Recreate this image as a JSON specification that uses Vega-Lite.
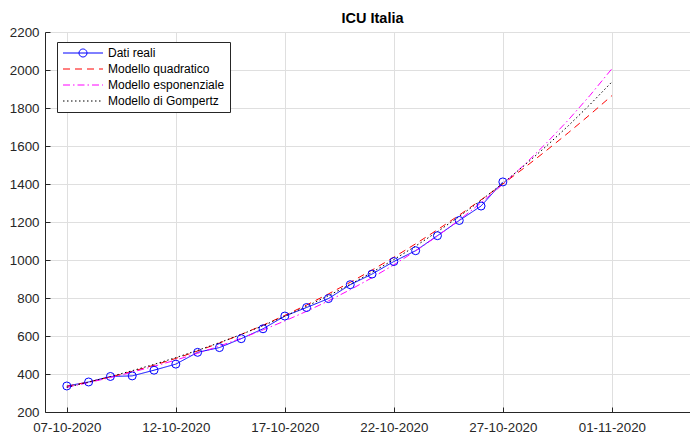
{
  "$schema": "https://vega.github.io/schema/vega-lite/v6.json",
  "width": 645,
  "height": 380,
  "autosize": {"type": "none"},
  "padding": {"left": 45, "top": 32, "right": 0, "bottom": 24},
  "background": "white",
  "title": {"text": "ICU Italia", "font": "Liberation Sans", "fontSize": 14.5, "fontWeight": "bold", "color": "black", "anchor": "middle", "dx": 5, "offset": -1},
  "data": {"values": [
    {"date": "2020-10-07", "serie": "Dati reali", "valore": 337},
    {"date": "2020-10-08", "serie": "Dati reali", "valore": 358},
    {"date": "2020-10-09", "serie": "Dati reali", "valore": 387},
    {"date": "2020-10-10", "serie": "Dati reali", "valore": 390},
    {"date": "2020-10-11", "serie": "Dati reali", "valore": 420},
    {"date": "2020-10-12", "serie": "Dati reali", "valore": 452},
    {"date": "2020-10-13", "serie": "Dati reali", "valore": 514},
    {"date": "2020-10-14", "serie": "Dati reali", "valore": 539},
    {"date": "2020-10-15", "serie": "Dati reali", "valore": 586},
    {"date": "2020-10-16", "serie": "Dati reali", "valore": 638},
    {"date": "2020-10-17", "serie": "Dati reali", "valore": 705},
    {"date": "2020-10-18", "serie": "Dati reali", "valore": 750},
    {"date": "2020-10-19", "serie": "Dati reali", "valore": 797},
    {"date": "2020-10-20", "serie": "Dati reali", "valore": 870},
    {"date": "2020-10-21", "serie": "Dati reali", "valore": 926},
    {"date": "2020-10-22", "serie": "Dati reali", "valore": 992},
    {"date": "2020-10-23", "serie": "Dati reali", "valore": 1049},
    {"date": "2020-10-24", "serie": "Dati reali", "valore": 1128},
    {"date": "2020-10-25", "serie": "Dati reali", "valore": 1208},
    {"date": "2020-10-26", "serie": "Dati reali", "valore": 1284},
    {"date": "2020-10-27", "serie": "Dati reali", "valore": 1411},

    {"date": "2020-10-07", "serie": "Modello quadratico", "valore": 335},
    {"date": "2020-10-08", "serie": "Modello quadratico", "valore": 358},
    {"date": "2020-10-09", "serie": "Modello quadratico", "valore": 384.3},
    {"date": "2020-10-10", "serie": "Modello quadratico", "valore": 413.7},
    {"date": "2020-10-11", "serie": "Modello quadratico", "valore": 446.2},
    {"date": "2020-10-12", "serie": "Modello quadratico", "valore": 482},
    {"date": "2020-10-13", "serie": "Modello quadratico", "valore": 520.9},
    {"date": "2020-10-14", "serie": "Modello quadratico", "valore": 563.1},
    {"date": "2020-10-15", "serie": "Modello quadratico", "valore": 608.4},
    {"date": "2020-10-16", "serie": "Modello quadratico", "valore": 656.8},
    {"date": "2020-10-17", "serie": "Modello quadratico", "valore": 708.5},
    {"date": "2020-10-18", "serie": "Modello quadratico", "valore": 763.3},
    {"date": "2020-10-19", "serie": "Modello quadratico", "valore": 821.4},
    {"date": "2020-10-20", "serie": "Modello quadratico", "valore": 882.6},
    {"date": "2020-10-21", "serie": "Modello quadratico", "valore": 946.9},
    {"date": "2020-10-22", "serie": "Modello quadratico", "valore": 1014.5},
    {"date": "2020-10-23", "serie": "Modello quadratico", "valore": 1085.2},
    {"date": "2020-10-24", "serie": "Modello quadratico", "valore": 1159.2},
    {"date": "2020-10-25", "serie": "Modello quadratico", "valore": 1236.3},
    {"date": "2020-10-26", "serie": "Modello quadratico", "valore": 1316.5},
    {"date": "2020-10-27", "serie": "Modello quadratico", "valore": 1400},
    {"date": "2020-10-28", "serie": "Modello quadratico", "valore": 1486.6},
    {"date": "2020-10-29", "serie": "Modello quadratico", "valore": 1576.5},
    {"date": "2020-10-30", "serie": "Modello quadratico", "valore": 1669.5},
    {"date": "2020-10-31", "serie": "Modello quadratico", "valore": 1765.6},
    {"date": "2020-11-01", "serie": "Modello quadratico", "valore": 1865},

    {"date": "2020-10-07", "serie": "Modello esponenziale", "valore": 330},
    {"date": "2020-10-08", "serie": "Modello esponenziale", "valore": 354.7},
    {"date": "2020-10-09", "serie": "Modello esponenziale", "valore": 381.3},
    {"date": "2020-10-10", "serie": "Modello esponenziale", "valore": 409.8},
    {"date": "2020-10-11", "serie": "Modello esponenziale", "valore": 440.5},
    {"date": "2020-10-12", "serie": "Modello esponenziale", "valore": 473.5},
    {"date": "2020-10-13", "serie": "Modello esponenziale", "valore": 508.9},
    {"date": "2020-10-14", "serie": "Modello esponenziale", "valore": 547},
    {"date": "2020-10-15", "serie": "Modello esponenziale", "valore": 588},
    {"date": "2020-10-16", "serie": "Modello esponenziale", "valore": 632},
    {"date": "2020-10-17", "serie": "Modello esponenziale", "valore": 679.3},
    {"date": "2020-10-18", "serie": "Modello esponenziale", "valore": 730.2},
    {"date": "2020-10-19", "serie": "Modello esponenziale", "valore": 784.9},
    {"date": "2020-10-20", "serie": "Modello esponenziale", "valore": 843.6},
    {"date": "2020-10-21", "serie": "Modello esponenziale", "valore": 906.8},
    {"date": "2020-10-22", "serie": "Modello esponenziale", "valore": 974.7},
    {"date": "2020-10-23", "serie": "Modello esponenziale", "valore": 1047.7},
    {"date": "2020-10-24", "serie": "Modello esponenziale", "valore": 1126.1},
    {"date": "2020-10-25", "serie": "Modello esponenziale", "valore": 1210.4},
    {"date": "2020-10-26", "serie": "Modello esponenziale", "valore": 1301},
    {"date": "2020-10-27", "serie": "Modello esponenziale", "valore": 1398.4},
    {"date": "2020-10-28", "serie": "Modello esponenziale", "valore": 1503.1},
    {"date": "2020-10-29", "serie": "Modello esponenziale", "valore": 1615.7},
    {"date": "2020-10-30", "serie": "Modello esponenziale", "valore": 1736.6},
    {"date": "2020-10-31", "serie": "Modello esponenziale", "valore": 1866.7},
    {"date": "2020-11-01", "serie": "Modello esponenziale", "valore": 2006.4},

    {"date": "2020-10-07", "serie": "Modello di Gompertz", "valore": 330},
    {"date": "2020-10-08", "serie": "Modello di Gompertz", "valore": 357.1},
    {"date": "2020-10-09", "serie": "Modello di Gompertz", "valore": 386.2},
    {"date": "2020-10-10", "serie": "Modello di Gompertz", "valore": 417.3},
    {"date": "2020-10-11", "serie": "Modello di Gompertz", "valore": 450.6},
    {"date": "2020-10-12", "serie": "Modello di Gompertz", "valore": 486.2},
    {"date": "2020-10-13", "serie": "Modello di Gompertz", "valore": 524.3},
    {"date": "2020-10-14", "serie": "Modello di Gompertz", "valore": 564.9},
    {"date": "2020-10-15", "serie": "Modello di Gompertz", "valore": 608.3},
    {"date": "2020-10-16", "serie": "Modello di Gompertz", "valore": 654.6},
    {"date": "2020-10-17", "serie": "Modello di Gompertz", "valore": 703.9},
    {"date": "2020-10-18", "serie": "Modello di Gompertz", "valore": 756.4},
    {"date": "2020-10-19", "serie": "Modello di Gompertz", "valore": 812.3},
    {"date": "2020-10-20", "serie": "Modello di Gompertz", "valore": 871.8},
    {"date": "2020-10-21", "serie": "Modello di Gompertz", "valore": 935},
    {"date": "2020-10-22", "serie": "Modello di Gompertz", "valore": 1002.2},
    {"date": "2020-10-23", "serie": "Modello di Gompertz", "valore": 1073.4},
    {"date": "2020-10-24", "serie": "Modello di Gompertz", "valore": 1148.9},
    {"date": "2020-10-25", "serie": "Modello di Gompertz", "valore": 1229.1},
    {"date": "2020-10-26", "serie": "Modello di Gompertz", "valore": 1314.1},
    {"date": "2020-10-27", "serie": "Modello di Gompertz", "valore": 1404},
    {"date": "2020-10-28", "serie": "Modello di Gompertz", "valore": 1499.1},
    {"date": "2020-10-29", "serie": "Modello di Gompertz", "valore": 1599.8},
    {"date": "2020-10-30", "serie": "Modello di Gompertz", "valore": 1706.2},
    {"date": "2020-10-31", "serie": "Modello di Gompertz", "valore": 1818.6},
    {"date": "2020-11-01", "serie": "Modello di Gompertz", "valore": 1937.2}
  ]},
  "encoding": {
    "x": {
      "field": "date", "type": "temporal",
      "scale": {"type": "utc", "domain": [{"year": 2020, "month": 10, "date": 6, "utc": true}, {"year": 2020, "month": 11, "date": 4, "hours": 14, "utc": true}]},
      "axis": {
        "values": [
          {"year": 2020, "month": 10, "date": 7, "utc": true},
          {"year": 2020, "month": 10, "date": 12, "utc": true},
          {"year": 2020, "month": 10, "date": 17, "utc": true},
          {"year": 2020, "month": 10, "date": 22, "utc": true},
          {"year": 2020, "month": 10, "date": 27, "utc": true},
          {"year": 2020, "month": 11, "date": 1, "utc": true}
        ],
        "labelExpr": "utcFormat(datum.value, '%d-%m-%Y')", "labelPadding": 13.5, "labelFlush": false, "labelOverlap": false
      }
    },
    "y": {
      "field": "valore", "type": "quantitative",
      "scale": {"domain": [200, 2200], "nice": false, "zero": false},
      "axis": {"values": [200, 400, 600, 800, 1000, 1200, 1400, 1600, 1800, 2000, 2200], "format": "d", "labelPadding": 11, "labelFlush": false, "labelOverlap": false}
    }
  },
  "layer": [
    {
      "mark": {"type": "line", "strokeWidth": 1, "clip": true},
      "encoding": {
        "color": {
          "field": "serie", "type": "nominal",
          "scale": {"domain": ["Dati reali", "Modello quadratico", "Modello esponenziale", "Modello di Gompertz"], "range": ["#0000ff", "#ff0000", "#ff00ff", "#000000"]},
          "legend": {"title": null, "encode": {"symbols": {"update": {"shape": {"signal": "datum.value === 'Dati reali' ? 'M-1,0L7,0M3.8,0A0.8,0.8,0,1,1,2.2,0A0.8,0.8,0,1,1,3.8,0' : 'M-1,0L7,0'"}, "fill": {"value": "transparent"}}}}}
        },
        "strokeDash": {
          "field": "serie", "type": "nominal",
          "scale": {"domain": ["Dati reali", "Modello quadratico", "Modello esponenziale", "Modello di Gompertz"], "range": [[1, 0], [7, 5], [7, 3, 1.5, 3], [1.5, 2.5]]},
          "legend": {"title": null, "encode": {"symbols": {"update": {"shape": {"signal": "datum.value === 'Dati reali' ? 'M-1,0L7,0M3.8,0A0.8,0.8,0,1,1,2.2,0A0.8,0.8,0,1,1,3.8,0' : 'M-1,0L7,0'"}, "fill": {"value": "transparent"}}}}}
        },
        "order": {"field": "date", "type": "temporal"}
      }
    },
    {
      "transform": [{"filter": "datum.serie === 'Dati reali'"}],
      "mark": {"type": "point", "shape": "circle", "size": 64, "filled": false, "stroke": "#0000ff", "strokeWidth": 1, "opacity": 1}
    }
  ],
  "config": {
    "view": {"stroke": null},
    "axis": {"domainColor": "#262626", "tickColor": "#262626", "gridColor": "#dfdfdf", "gridOpacity": 1, "labelFont": "Liberation Sans", "labelFontSize": 13.33, "labelColor": "#262626", "tickSize": -5, "title": null, "domainWidth": 1, "tickWidth": 1},
    "legend": {
      "orient": "none", "legendX": 12, "legendY": 10,
      "padding": 5, "strokeColor": "#262626", "strokeWidth": 1, "fillColor": "white", "cornerRadius": 0,
      "labelFont": "Liberation Sans", "labelFontSize": 12, "labelColor": "black", "labelOffset": 34,
      "symbolSize": 100, "symbolStrokeWidth": 1, "rowPadding": 4, "labelLimit": 300
    }
  }
}
